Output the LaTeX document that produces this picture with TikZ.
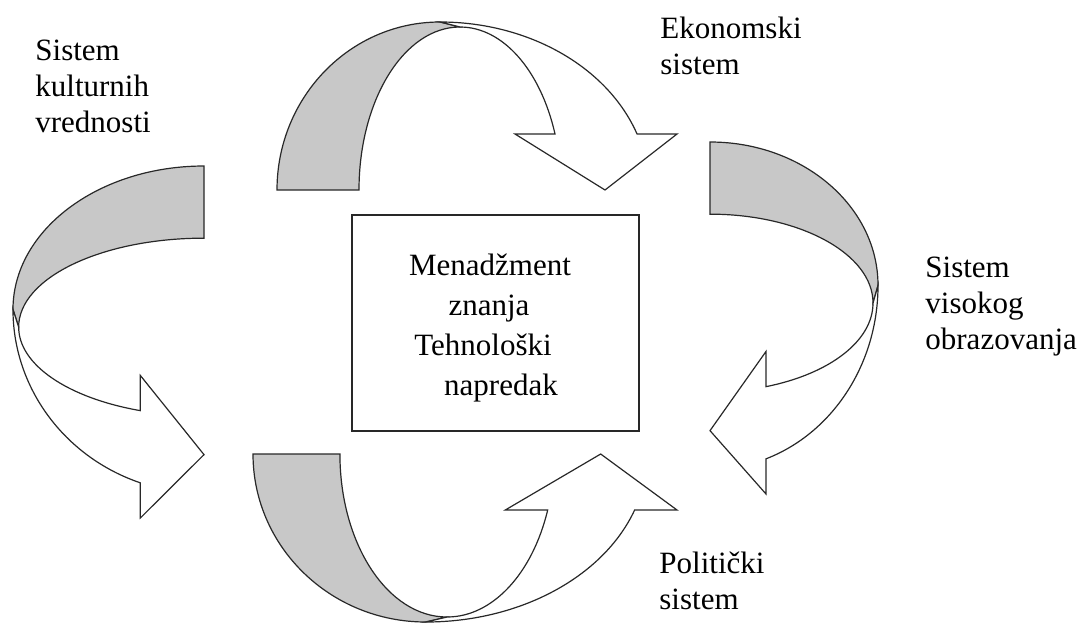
\documentclass[tikz,border=0pt]{standalone}
\usepackage{fontspec}
\setmainfont{Liberation Serif}
\usepackage{xcolor}
\usetikzlibrary{calc}

\definecolor{backgray}{RGB}{200,200,200}
\definecolor{linegray}{RGB}{40,40,40}

\tikzset{
    back/.style={fill=backgray, draw=linegray, line width=0.6pt},
    front/.style={fill=white, draw=linegray, line width=0.6pt},
    lbl/.style={align=left, anchor=north west, inner sep=0pt,
        font=\fontsize{15.5}{18}\selectfont},
}

% one bent arrow, base at the origin, bending over to the right
\newcommand{\bentarrow}{%
    % grey back of the band
    \path[back] (0,0) arc[start angle=180, end angle=90, x radius=163, y radius=168]
        -- (183,163) arc[start angle=90, end angle=180, x radius=101, y radius=163] -- cycle;
    % white front of the band with the head
    \path[front] (163,168) arc[start angle=90, end angle=19.47, x radius=209, y radius=168]
        -- (400,56) -- (328,0) -- (238,56) -- (278,56)
        arc[start angle=20.1, end angle=90, x radius=101, y radius=163] -- cycle;
}

\begin{document}
\begin{tikzpicture}[x=0.5pt, y=0.5pt]
        \useasboundingbox (0,0) rectangle (1079,623);

        \coordinate (T) at (277,433);
        \coordinate (R) at (710,481);
        \coordinate (L) at (204,457);
        \coordinate (B) at (253,169);

        % the four bent arrows
        \begin{scope}[shift={(T)}]
            \bentarrow
        \end{scope}
        \begin{scope}[shift={(R)}, rotate=-90, xscale=0.88]
            \bentarrow
        \end{scope}
        \begin{scope}[shift={(L)}, rotate=-90, xscale=0.88, yscale=-1.137]
            \bentarrow
        \end{scope}
        \begin{scope}[shift={(B)}, xscale=1.06, yscale=-1]
            \bentarrow
        \end{scope}

        \node[draw=linegray, line width=0.6pt, minimum width=143.5pt, minimum height=108pt]
            (box) at (495.5,300) {};
        \node[align=center, inner sep=0pt, font=\fontsize{15.5}{20}\selectfont]
            (boxtext) at (495.5,295)
            {\hspace*{-5.5pt}Menad\v{z}ment\\ \hspace*{-6.5pt}znanja\\
             \hspace*{-12.5pt}Tehnolo\v{s}ki\\ \hspace*{5.5pt}napredak};

        \node[lbl] (kultura) at (35,583) {Sistem\\ kulturnih\\ vrednosti};
        \node[lbl] (ekonomija) at (660,606) {Ekonomski\\ sistem};
        \node[lbl] (obrazovanje) at (925,366) {Sistem\\ visokog\\ obrazovanja};
        \node[lbl] (politika) at (659,71) {Politi\v{c}ki\\ sistem};
    \end{tikzpicture}
\end{document}
